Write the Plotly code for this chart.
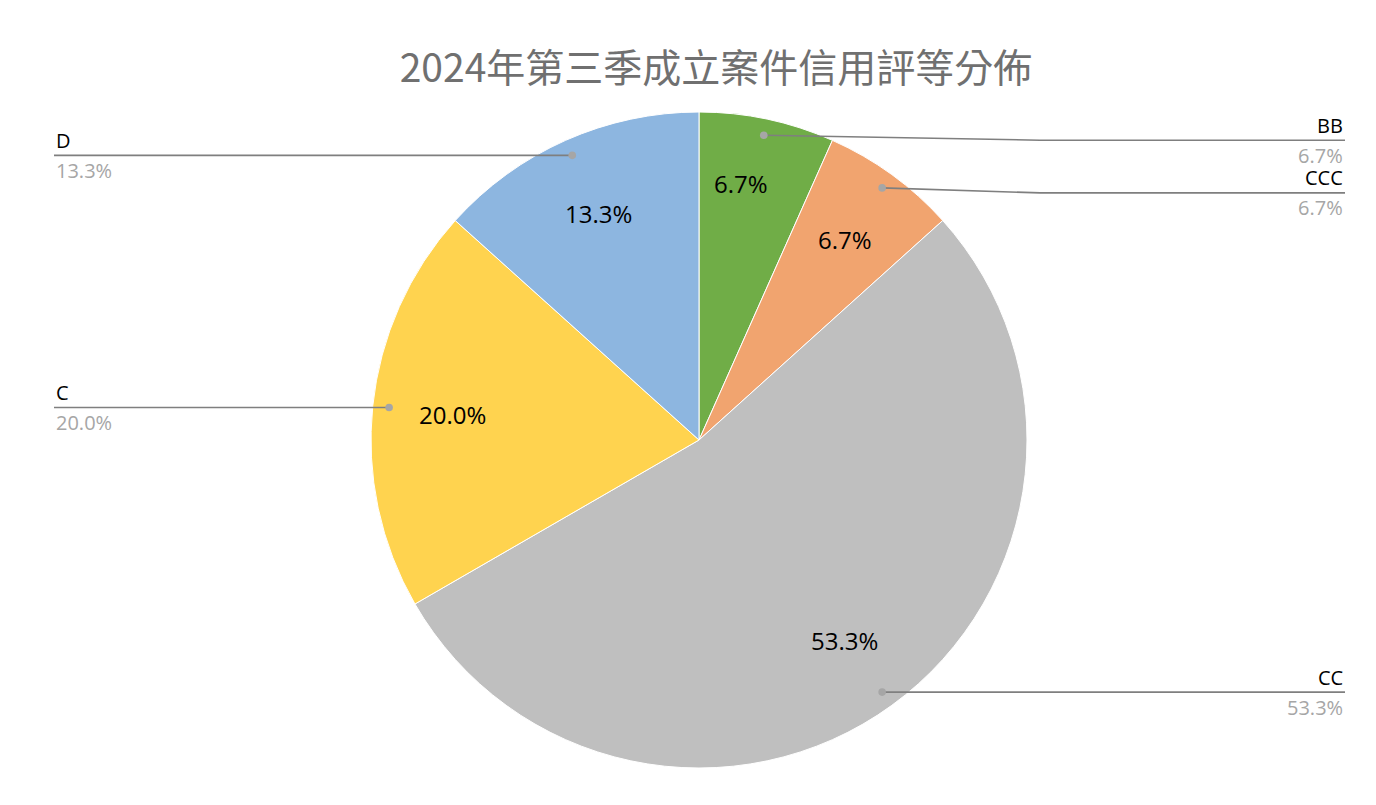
import math
import plotly.graph_objects as go

# ---- data ----
title_text = "2024年第三季成立案件信用評等分佈"
categories = ["BB", "CCC", "CC", "C", "D"]
counts = [1, 1, 8, 3, 2]
colors = ["#70AD47", "#F1A46F", "#BFBFBF", "#FFD34F", "#8DB6E0"]

W, H = 1376, 805
CX, CY, R = 699, 440, 328          # pie centre / radius in pixels
INNER_TXT = 0.755                  # radius factor of inside labels
DOT = 0.95                         # radius factor of leader-line dots
RIGHT_X, LEFT_X = 1345, 54         # outer label edges
BEND_X = 1040                      # x where bent leader lines turn horizontal
# small layout nudges (pixels) mimicking the original label layout
LINE_NUDGE = {"BB": 5, "CCC": 5}
INNER_NUDGE = {"BB": (-9, -14)}


def px(x):
    return x / W


def py(y):
    return 1 - y / H


total = sum(counts)
fracs = [c / total for c in counts]

fig = go.Figure(go.Pie(
    labels=categories,
    values=counts,
    sort=False,
    direction="clockwise",
    rotation=0,
    marker=dict(colors=colors, line=dict(color="white", width=1)),
    textinfo="none",
    hoverinfo="label+percent",
    showlegend=False,
    domain=dict(x=[px(CX - R), px(CX + R)], y=[py(CY + R), py(CY - R)]),
))

annotations = []
shapes = []
cum = 0.0
for cat, f in zip(categories, fracs):
    mid = math.radians(90 - (cum + f / 2) * 360)
    cum += f
    pct = f"{f * 100:.1f}%"
    # inside percentage
    nx, ny = INNER_NUDGE.get(cat, (0, 0))
    tx = CX + INNER_TXT * R * math.cos(mid) + nx
    ty = CY - INNER_TXT * R * math.sin(mid) + ny
    annotations.append(dict(x=px(tx), y=py(ty), xref="paper", yref="paper",
                            xanchor="center", yanchor="middle",
                            text=pct, showarrow=False,
                            font=dict(family="Open Sans", size=24, color="#000000")))
    # leader line
    dx = CX + DOT * R * math.cos(mid)
    dy = CY - DOT * R * math.sin(mid)
    right = math.cos(mid) > 0
    ex = RIGHT_X if right else LEFT_X
    ly = dy + LINE_NUDGE.get(cat, 0)
    if ly != dy:
        path = (f"M {px(dx)} {py(dy)} L {px(BEND_X)} {py(ly)} "
                f"L {px(ex)} {py(ly)}")
        shapes.append(dict(type="path", xref="paper", yref="paper", path=path,
                           line=dict(color="#7F7F7F", width=1.6)))
    else:
        shapes.append(dict(type="line", xref="paper", yref="paper",
                           x0=px(dx), y0=py(dy), x1=px(ex), y1=py(ly),
                           line=dict(color="#7F7F7F", width=1.6)))
    shapes.append(dict(type="circle", xref="paper", yref="paper",
                       xsizemode="pixel", ysizemode="pixel",
                       xanchor=px(dx), yanchor=py(dy),
                       x0=-3.8, x1=3.8, y0=-3.8, y1=3.8,
                       fillcolor="#A6A6A6", line=dict(width=0)))
    anchor = "right" if right else "left"
    annotations.append(dict(x=px(ex), y=py(ly - 15), xref="paper", yref="paper",
                            text=cat, showarrow=False, xanchor=anchor, yanchor="middle",
                            font=dict(family="Open Sans", size=20, color="#000000")))
    annotations.append(dict(x=px(ex), y=py(ly + 15), xref="paper", yref="paper",
                            text=pct, showarrow=False, xanchor=anchor, yanchor="middle",
                            font=dict(family="Open Sans", size=20, color="#A6A6A6")))

fig.update_layout(
    width=W, height=H, autosize=False,
    margin=dict(l=0, r=0, t=0, b=0),
    paper_bgcolor="white", plot_bgcolor="white",
    title=dict(text=title_text, x=716 / W, xanchor="center",
               y=py(68), yanchor="middle",
               font=dict(family="Noto Sans CJK TC", size=39, color="#707070")),
    annotations=annotations,
    shapes=shapes,
)

fig.write_html("out.html")
